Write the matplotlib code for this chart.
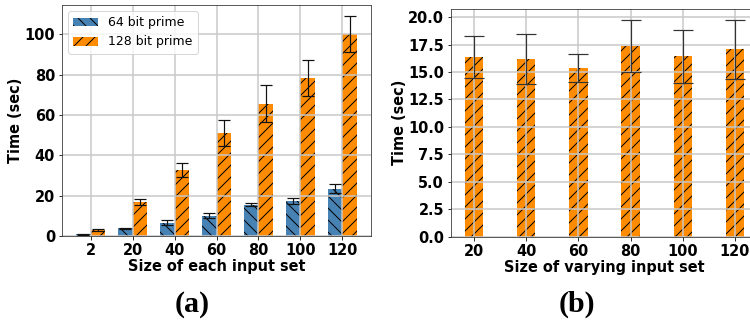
import matplotlib
matplotlib.use("Agg")
import matplotlib.pyplot as plt
import numpy as np

# panel (a): time vs size of each input set
sizes_a = ["2", "20", "40", "60", "80", "100", "120"]
time_64 = [0.8, 3.9, 6.6, 10.0, 15.5, 17.4, 23.5]
err_64 = [0.1, 0.2, 1.3, 1.2, 0.8, 1.6, 2.1]
time_128 = [3.0, 16.9, 32.7, 51.0, 65.5, 78.3, 100.0]
err_128 = [0.3, 1.6, 3.7, 6.4, 9.1, 9.0, 9.0]

# panel (b): time vs size of varying input set
sizes_b = ["20", "40", "60", "80", "100", "120"]
time_b = [16.35, 16.2, 15.35, 17.36, 16.44, 17.08]
err_b = [1.9, 2.3, 1.27, 2.4, 2.4, 2.7]

DPI = 72
plt.rcParams["hatch.linewidth"] = 1.0
fig = plt.figure(figsize=(750 / DPI, 325 / DPI), dpi=DPI)

blue = "#4682B4"
orange = "#FF8C00"
w = 0.35
ekw = dict(ecolor="#111111", elinewidth=1.2, capthick=1.2)


def style(ax):
    ax.grid(True, color="#c8c8c8", linewidth=1.5)
    for lab in ax.get_xticklabels() + ax.get_yticklabels():
        lab.set_fontweight("bold")
        lab.set_fontsize(14.5)
    for s in ax.spines.values():
        s.set_color("#333333")


ax1 = fig.add_axes([62 / 750, 89 / 325, 309 / 750, 231 / 325])
x = np.arange(len(sizes_a))
ax1.bar(x - w / 2, time_64, w, color=blue, hatch="\\\\", label="64 bit prime",
        yerr=err_64, capsize=6, error_kw=ekw)
ax1.bar(x + w / 2, time_128, w, color=orange, hatch="//", label="128 bit prime",
        yerr=err_128, capsize=6, error_kw=ekw)
ax1.set_xticks(x)
ax1.set_xticklabels(sizes_a)
ax1.set_xlabel("Size of each input set", fontsize=14.5, fontweight="bold", labelpad=1)
ax1.set_ylabel("Time (sec)", fontsize=14.5, fontweight="bold", labelpad=1)
ax1.legend(loc="upper left", fontsize=12.5)
style(ax1)

ax2 = fig.add_axes([451 / 750, 88.3 / 325, 307 / 750, 228 / 325])
xb = np.arange(len(sizes_b))
ax2.bar(xb, time_b, w, color=orange, hatch="//",
        yerr=err_b, capsize=10, error_kw=dict(ekw, ecolor="#333333"))
ax2.set_xticks(xb)
ax2.set_xticklabels(sizes_b)
ax2.set_xlabel("Size of varying input set", fontsize=14.5, fontweight="bold", labelpad=1)
ax2.set_ylabel("Time (sec)", fontsize=14.5, fontweight="bold", labelpad=1)
style(ax2)

fig.text(192 / 750, 1 - 304 / 325, "(a)", fontsize=30, fontweight="bold",
         family="Liberation Serif", ha="center", va="center")
fig.text(577 / 750, 1 - 304 / 325, "(b)", fontsize=30, fontweight="bold",
         family="Liberation Serif", ha="center", va="center")

fig.savefig("out.png", dpi=DPI)
